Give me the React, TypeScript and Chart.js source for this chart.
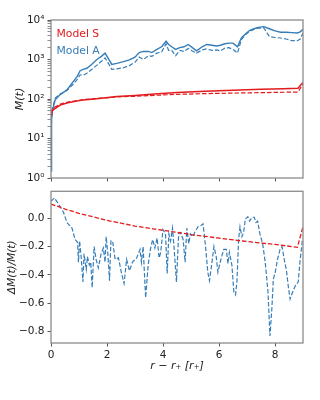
import React, { useEffect, useRef } from "react";
import { Chart, registerables } from "chart.js";
Chart.register(...registerables);

// ---------------- data ----------------
const RED = "#e41a1c";
const BLUE = "#377eb8";

const xTickValues = [0, 2, 4, 6, 8];
const logMajor = [1, 10, 100, 1000, 10000];
const deltaTickValues = [-0.8, -0.6, -0.4, -0.2, 0.0];

// Model S, M(t)
const modelSx = [0, 0.03, 0.1, 0.33, 0.6, 1.16, 1.8, 2.35, 3.0, 3.7, 4.5, 5.5, 6.5, 7.5, 8.3, 8.82, 9.0];
const modelSsolid = [40, 48, 55, 70, 80, 95, 105, 115, 123, 133, 146, 158, 167, 176, 183, 188, 262];
const modelSdashed = [44, 52, 60, 74, 84, 97, 105, 113, 117, 124, 131, 137, 141, 145, 148, 150, 240];

// Model A, M(t)
const modelAx = [0, 0.02, 0.05, 0.15, 0.3, 0.57, 0.8, 0.93, 1.04, 1.15, 1.28, 1.45, 1.64, 1.8, 1.93, 2.05, 2.17, 2.35, 2.59, 2.8, 3.0, 3.15, 3.3, 3.48, 3.6, 3.78, 3.95, 4.11, 4.2, 4.31, 4.45, 4.6, 4.75, 4.9, 5.05, 5.2, 5.4, 5.56, 5.75, 5.91, 6.05, 6.21, 6.35, 6.5, 6.66, 6.8, 6.95, 7.1, 7.25, 7.4, 7.6, 7.8, 8.0, 8.2, 8.4, 8.6, 8.8, 8.9, 9.0];
const modelAsolid = [1.5, 30, 50, 95, 125, 170, 280, 370, 520, 560, 600, 750, 1000, 1200, 1450, 1050, 750, 800, 880, 980, 1150, 1500, 1600, 1600, 1500, 1800, 2100, 2900, 2400, 2100, 1800, 2000, 2100, 2400, 2000, 1650, 2100, 2400, 2300, 2200, 2300, 2500, 2600, 2600, 2100, 3500, 4500, 5500, 6000, 6500, 6800, 6000, 5300, 4900, 4900, 4800, 4700, 5000, 5800];
const modelAdashed = [1.6, 33, 56, 105, 130, 165, 240, 310, 410, 400, 450, 560, 720, 900, 1100, 800, 560, 580, 620, 700, 850, 1150, 1000, 1250, 1200, 1450, 1550, 2500, 1700, 1700, 1250, 1700, 1600, 1900, 1650, 1450, 1750, 1850, 1700, 1750, 1650, 1950, 2000, 1800, 1450, 3200, 4300, 5200, 5800, 6200, 6300, 3800, 3600, 3500, 3300, 3000, 3000, 3300, 4700];

// ΔM(t)/M(t)
const deltaSx = [0, 0.5, 1, 1.5, 2, 3, 4, 4.5, 5, 6, 6.8, 8, 8.8, 9];
const deltaS = [0.10, 0.065, 0.035, 0.01, -0.015, -0.055, -0.085, -0.10, -0.115, -0.14, -0.16, -0.185, -0.205, -0.06];

const deltaAx = [0, 0.12, 0.27, 0.45, 0.57, 0.75, 0.86, 0.95, 0.98, 1.02, 1.08, 1.14, 1.18, 1.26, 1.30, 1.37, 1.42, 1.47, 1.54, 1.61, 1.69, 1.79, 1.87, 1.93, 1.97, 2.03, 2.09, 2.14, 2.20, 2.29, 2.41, 2.52, 2.61, 2.70, 2.80, 2.91, 3.06, 3.18, 3.23, 3.29, 3.38, 3.47, 3.55, 3.63, 3.71, 3.79, 3.86, 3.92, 4.00, 4.09, 4.15, 4.21, 4.27, 4.34, 4.40, 4.48, 4.56, 4.62, 4.72, 4.79, 4.85, 4.92, 4.98, 5.07, 5.13, 5.25, 5.37, 5.43, 5.52, 5.60, 5.66, 5.75, 5.82, 5.90, 5.96, 6.08, 6.17, 6.26, 6.32, 6.37, 6.46, 6.53, 6.59, 6.64, 6.70, 6.75, 6.82, 6.88, 6.94, 7.03, 7.09, 7.18, 7.26, 7.32, 7.38, 7.46, 7.56, 7.65, 7.75, 7.82, 7.89, 7.94, 8.01, 8.09, 8.18, 8.25, 8.33, 8.41, 8.48, 8.54, 8.63, 8.74, 8.83, 8.89, 8.98];
const deltaA = [0.12, 0.143, 0.10, 0.04, -0.03, -0.07, -0.15, -0.17, -0.31, -0.16, -0.28, -0.45, -0.25, -0.36, -0.27, -0.33, -0.31, -0.49, -0.20, -0.29, -0.35, -0.25, -0.21, -0.31, -0.13, -0.25, -0.44, -0.16, -0.16, -0.29, -0.28, -0.39, -0.46, -0.29, -0.37, -0.31, -0.28, -0.22, -0.31, -0.20, -0.56, -0.33, -0.22, -0.15, -0.21, -0.14, -0.28, -0.24, -0.08, -0.11, -0.39, -0.11, -0.16, -0.07, -0.22, -0.45, -0.11, -0.10, -0.15, -0.31, -0.07, -0.18, -0.11, -0.13, -0.10, -0.06, -0.05, -0.04, -0.20, -0.38, -0.44, -0.31, -0.20, -0.27, -0.38, -0.28, -0.22, -0.22, -0.32, -0.24, -0.33, -0.52, -0.54, -0.45, -0.15, -0.06, -0.13, -0.10, -0.005, 0.01, -0.02, 0.007, 0.007, -0.03, -0.02, -0.11, -0.18, -0.31, -0.52, -0.83, -0.63, -0.43, -0.38, -0.29, -0.22, -0.20, -0.29, -0.37, -0.49, -0.57, -0.52, -0.47, -0.45, -0.31, -0.15];

// ---------------- helpers ----------------
const FONT = "DejaVu Sans";
const TXT = "#222";
const SUP = ["⁰", "¹", "²", "³", "⁴", "⁵"];

const pts = (xs: number[], ys: number[]) => xs.map((x, i) => ({ x, y: ys[i] }));

const logTickValues = (() => {
  const out: number[] = [];
  for (let e = 0; e < 4; e++) for (let m = 1; m < 10; m++) out.push(m * Math.pow(10, e));
  out.push(10000);
  return out;
})();
const isPow10 = (v: number) => logMajor.some((m) => Math.abs(m - v) < 1e-9);

const framePlugin = {
  id: "frame",
  afterDraw(chart: any) {
    const { ctx, chartArea: a } = chart;
    ctx.save();
    ctx.strokeStyle = "#8c8c8c";
    ctx.lineWidth = 1.3;
    ctx.strokeRect(a.left, a.top, a.right - a.left, a.bottom - a.top);
    ctx.restore();
  },
};

const legendPlugin = {
  id: "innerLegend",
  afterDraw(chart: any) {
    const { ctx, chartArea: a } = chart;
    ctx.save();
    ctx.font = `10.8px "${FONT}"`;
    ctx.textBaseline = "middle";
    ctx.textAlign = "left";
    ctx.fillStyle = RED;
    ctx.fillText("Model S", a.left + 5.5, a.top + 14.5);
    ctx.fillStyle = BLUE;
    ctx.fillText("Model A", a.left + 5.5, a.top + 31.5);
    ctx.restore();
  },
};

const gridCommon = {
  drawOnChartArea: false,
  drawTicks: true,
  tickLength: 3.5,
  tickColor: "#444",
  tickWidth: 0.9,
};

const line = (data: any[], color: string, dashed: boolean, width: number) => ({
  data,
  borderColor: color,
  backgroundColor: color,
  borderWidth: width,
  borderDash: dashed ? [4.5, 2] : [],
  pointRadius: 0,
  tension: 0,
  fill: false,
});

export default function App() {
  const topRef = useRef<HTMLCanvasElement>(null);
  const botRef = useRef<HTMLCanvasElement>(null);

  useEffect(() => {
    const top = new Chart(topRef.current as HTMLCanvasElement, {
      type: "line",
      data: {
        datasets: [
          line(pts(modelSx, modelSsolid), RED, false, 1.5),
          line(pts(modelSx, modelSdashed), RED, true, 1.2),
          line(pts(modelAx, modelAsolid), BLUE, false, 1.4),
          line(pts(modelAx, modelAdashed), BLUE, true, 1.2),
        ] as any,
      },
      options: {
        animation: false,
        responsive: false,
        devicePixelRatio: 1,
        layout: { padding: { top: 20, right: 17, left: 0, bottom: 0 } },
        plugins: { legend: { display: false }, tooltip: { enabled: false } },
        scales: {
          x: {
            type: "linear",
            min: 0,
            max: 9,
            afterBuildTicks: (s: any) => {
              s.ticks = xTickValues.map((value) => ({ value }));
            },
            afterFit: (s: any) => {
              s.height = 12;
            },
            ticks: { autoSkip: false, callback: () => "", font: { family: FONT, size: 10 } },
            grid: gridCommon,
            border: { display: false },
          },
          y: {
            type: "logarithmic",
            min: 1,
            max: 10000,
            afterBuildTicks: (s: any) => {
              s.ticks = logTickValues.map((value) => ({ value }));
            },
            afterFit: (s: any) => {
              s.width = 51;
            },
            ticks: {
              autoSkip: false,
              padding: 3,
              color: TXT,
              font: { family: FONT, size: 10.5 },
              callback: (v: any) => {
                const n = Number(v);
                if (!isPow10(n)) return "";
                return "10" + SUP[Math.round(Math.log10(n))];
              },
            },
            grid: {
              ...gridCommon,
              tickWidth: (c: any) => (c.tick && isPow10(c.tick.value) ? 0.9 : 0.6),
            },
            border: { display: false },
            title: {
              display: true,
              text: "M(t)",
              color: TXT,
              font: { family: FONT, size: 11, style: "italic" },
              padding: { top: 14, bottom: 0 },
            },
          },
        },
      },
      plugins: [framePlugin, legendPlugin],
    } as any);

    const bot = new Chart(botRef.current as HTMLCanvasElement, {
      type: "line",
      data: {
        datasets: [
          line(pts(deltaSx, deltaS), RED, true, 1.3),
          line(pts(deltaAx, deltaA), BLUE, true, 1.2),
        ] as any,
      },
      options: {
        animation: false,
        responsive: false,
        devicePixelRatio: 1,
        layout: { padding: { top: 3, right: 17, left: 0, bottom: 0 } },
        plugins: { legend: { display: false }, tooltip: { enabled: false } },
        scales: {
          x: {
            type: "linear",
            min: 0,
            max: 9,
            afterBuildTicks: (s: any) => {
              s.ticks = xTickValues.map((value) => ({ value }));
            },
            afterFit: (s: any) => {
              s.height = 57;
            },
            ticks: {
              autoSkip: false,
              maxRotation: 0,
              padding: 2,
              color: TXT,
              font: { family: FONT, size: 10.5 },
              callback: (v: any) => String(Number(v)),
            },
            grid: gridCommon,
            border: { display: false },
            title: {
              display: true,
              text: "r − r₊ [r₊]",
              color: TXT,
              font: { family: FONT, size: 11, style: "italic" },
              padding: { top: 0, bottom: 27 },
            },
          },
          y: {
            type: "linear",
            min: -0.88,
            max: 0.19,
            afterBuildTicks: (s: any) => {
              s.ticks = deltaTickValues.map((value) => ({ value }));
            },
            afterFit: (s: any) => {
              s.width = 51;
            },
            ticks: {
              autoSkip: false,
              padding: 3,
              color: TXT,
              font: { family: FONT, size: 10.5 },
              callback: (v: any) => Number(v).toFixed(1).replace("-", "−"),
            },
            grid: gridCommon,
            border: { display: false },
            title: {
              display: true,
              text: "ΔM(t)/M(t)",
              color: TXT,
              font: { family: FONT, size: 10.5, style: "italic" },
              padding: { top: 6, bottom: 0 },
            },
          },
        },
      },
      plugins: [framePlugin],
    } as any);

    return () => {
      top.destroy();
      bot.destroy();
    };
  }, []);

  return (
    <div style={{ position: "absolute", left: 0, top: 0, width: 320, height: 400, background: "#fff" }}>
      <canvas
        ref={topRef}
        width={320}
        height={190}
        style={{ position: "absolute", left: 0, top: 0, width: 320, height: 190, display: "block" }}
      />
      <canvas
        ref={botRef}
        width={320}
        height={218}
        style={{ position: "absolute", left: 0, top: 182, width: 320, height: 218, display: "block" }}
      />
    </div>
  );
}
